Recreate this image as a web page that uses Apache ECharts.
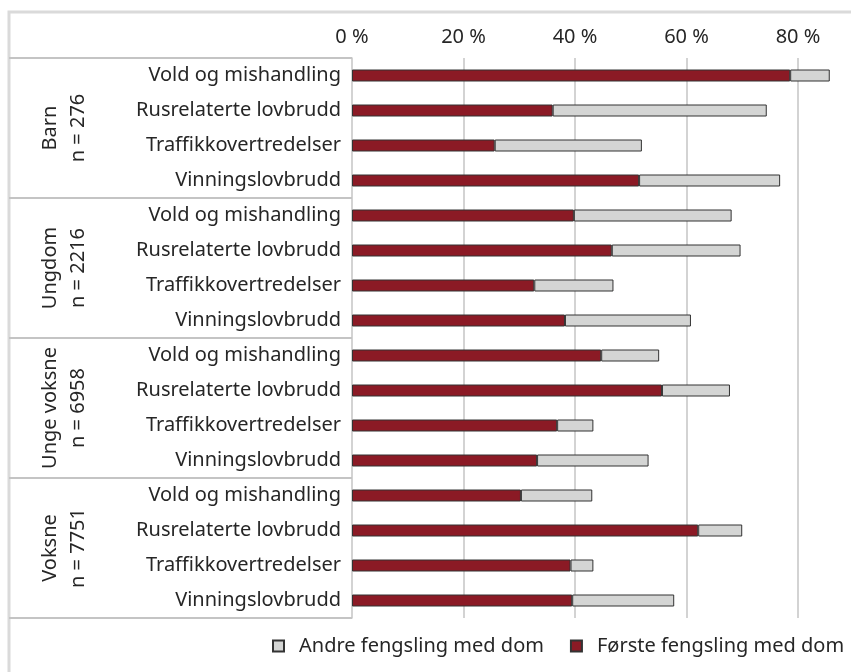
<!DOCTYPE html>
<html>
<head>
<meta charset="utf-8">
<script src="https://cdn.jsdelivr.net/npm/echarts@6/dist/echarts.min.js"></script>
<style>
  html, body { margin: 0; padding: 0; background: #fff; }
  #main { width: 851px; height: 672px; }
</style>
</head>
<body>
<div id="main"></div>
<script>
// grupper og lovbruddstyper
var groups = ['Barn\nn = 276', 'Ungdom\nn = 2216', 'Unge voksne\nn = 6958', 'Voksne\nn = 7751'];
var offences = ['Vold og mishandling', 'Rusrelaterte lovbrudd', 'Traffikkovertredelser', 'Vinningslovbrudd'];

// andel (%) - første fengsling med dom, per gruppe
var forste = [
  78.6, 36.0, 25.6, 51.5,
  39.8, 46.6, 32.7, 38.2,
  44.7, 55.6, 36.8, 33.2,
  30.3, 62.1, 39.2, 39.5
];
// andel (%) - andre fengsling med dom (lagt oppå første)
var andre = [
  7.1, 38.4, 26.4, 25.3,
  28.3, 23.1, 14.2, 22.6,
  10.4, 12.2, 6.5, 20.0,
  12.8, 7.9, 4.1, 18.3
];
var xTicks = [0, 20, 40, 60, 80];

var categories = [];
groups.forEach(function (g, gi) {
  offences.forEach(function (o) {
    categories.push(gi + '|' + o);
  });
});

var font = 'Noto Sans';
var textColor = '#262626';
var gridColor = '#c4c4c4';

var chart = echarts.init(document.getElementById('main'));
chart.setOption({
  animation: false,
  textStyle: { fontFamily: font },
  graphic: [{
    type: 'rect',
    shape: { x: 9, y: 12, width: 900, height: 720 },
    style: { fill: 'none', stroke: '#dadada', lineWidth: 3 },
    z: -1
  }],
  grid: { left: 352, right: 14, top: 58, bottom: 54 },
  legend: {
    data: ['Andre fengsling med dom', 'Første fengsling med dom'],
    left: 267,
    top: 631,
    width: 640,
    icon: 'rect',
    itemWidth: 11,
    itemHeight: 11,
    itemGap: 26,
    textStyle: { fontSize: 20, color: textColor, fontFamily: font, padding: [0, 0, 0, 10] }
  },
  xAxis: {
    type: 'value',
    position: 'top',
    min: 0,
    max: 87,
    interval: 20,
    axisLine: { show: false },
    axisTick: { show: false },
    axisLabel: {
      showMaxLabel: false,
      margin: 11,
      fontSize: 20,
      color: textColor,
      formatter: function (v) { return xTicks.indexOf(v) >= 0 ? v + ' %' : ''; }
    },
    splitLine: { show: true, showMinLine: false, showMaxLine: false, lineStyle: { color: gridColor, width: 1.5 } }
  },
  yAxis: [{
    type: 'category',
    inverse: true,
    data: categories,
    axisLine: { show: true, lineStyle: { color: gridColor, width: 1.5 } },
    axisTick: { show: false },
    axisLabel: {
      interval: 0,
      margin: 11,
      fontSize: 20,
      color: textColor,
      formatter: function (v) { return v.split('|')[1]; }
    }
  }, {
    type: 'category',
    inverse: true,
    position: 'left',
    data: groups,
    axisLine: { show: false },
    axisTick: { show: true, interval: 0, length: 343, lineStyle: { color: gridColor, width: 2 } },
    axisLabel: {
      interval: 0,
      rotate: 90,
      margin: 260,
      fontSize: 20,
      lineHeight: 28,
      color: textColor
    }
  }],
  series: [{
    name: 'Første fengsling med dom',
    type: 'bar',
    stack: 'total',
    barWidth: 12,
    data: forste,
    itemStyle: { color: '#8b1a25', borderColor: '#333333', borderWidth: 1 }
  }, {
    name: 'Andre fengsling med dom',
    type: 'bar',
    stack: 'total',
    barWidth: 12,
    data: andre,
    itemStyle: { color: '#d4d5d4', borderColor: '#333333', borderWidth: 1 }
  }]
});
</script>
</body>
</html>
